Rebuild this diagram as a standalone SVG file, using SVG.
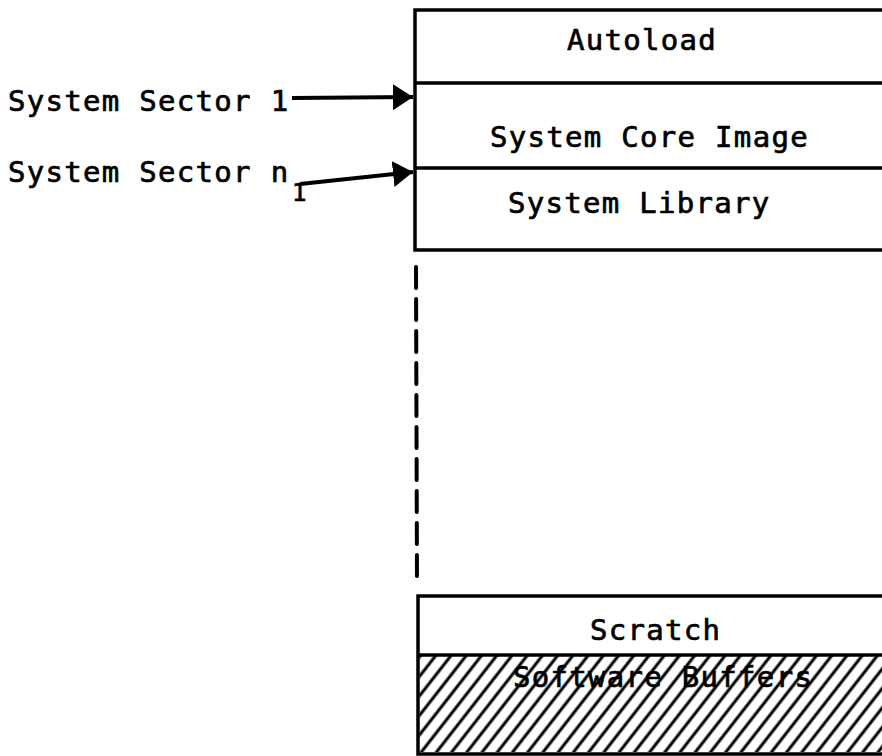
<svg xmlns="http://www.w3.org/2000/svg" width="882" height="756" viewBox="0 0 882 756">
<style>
.t{font-family:"DejaVu Sans Mono","Liberation Mono",monospace;font-size:29px;letter-spacing:1.3px;fill:#000;stroke:#000;stroke-width:0.7}
.b{fill:none;stroke:#000;stroke-width:3.5}
.c{fill:none;stroke:#000;stroke-width:4}
</style>
<defs>
<pattern id="hatch" patternUnits="userSpaceOnUse" width="12" height="12" patternTransform="rotate(38)">
<line x1="3" y1="0" x2="3" y2="12" stroke="#000" stroke-width="3"/>
</pattern>
<marker id="ah" markerUnits="userSpaceOnUse" markerWidth="22" markerHeight="26" refX="20" refY="13" orient="auto">
<path d="M0,0 L20,13 L0,26 Z" fill="#000"/>
</marker>
</defs>
<rect width="882" height="756" fill="#fff"/>
<g id="top-stack">
<path class="b" d="M884,10 H415 V250 H884 M415,83 H884 M415,168 H884"/>
</g>
<g id="autoload"><text class="t" x="567" y="50">Autoload</text></g>
<g id="system-core-image"><text class="t" x="490" y="147">System Core Image</text></g>
<g id="system-library"><text class="t" x="508" y="213">System Library</text></g>
<g id="gap">
<line x1="416" y1="267" x2="417" y2="584" stroke="#000" stroke-width="4" stroke-linecap="round" stroke-dasharray="21 11"/>
</g>
<g id="scratch">
<path class="b" d="M884,596 H418 V754 H884"/>
<text class="t" x="590" y="640">Scratch</text>
</g>
<g id="software-buffers">
<rect x="419.5" y="655" width="464" height="97" fill="url(#hatch)"/>
<line x1="418" y1="655" x2="884" y2="655" stroke="#000" stroke-width="3.5"/>
<text class="t" x="513" y="687">Software Buffers</text>
</g>
<g id="label-sector-1"><text class="t" x="8" y="111">System Sector 1</text></g>
<g id="label-sector-n1"><text class="t" x="8" y="182">System Sector n</text><text class="t" x="292" y="201" style="font-size:24px">1</text></g>
<g id="connectors">
<line class="c" x1="292" y1="98" x2="413" y2="97" marker-end="url(#ah)"/>
<line class="c" x1="300" y1="184" x2="413" y2="172" marker-end="url(#ah)"/>
</g>
</svg>
